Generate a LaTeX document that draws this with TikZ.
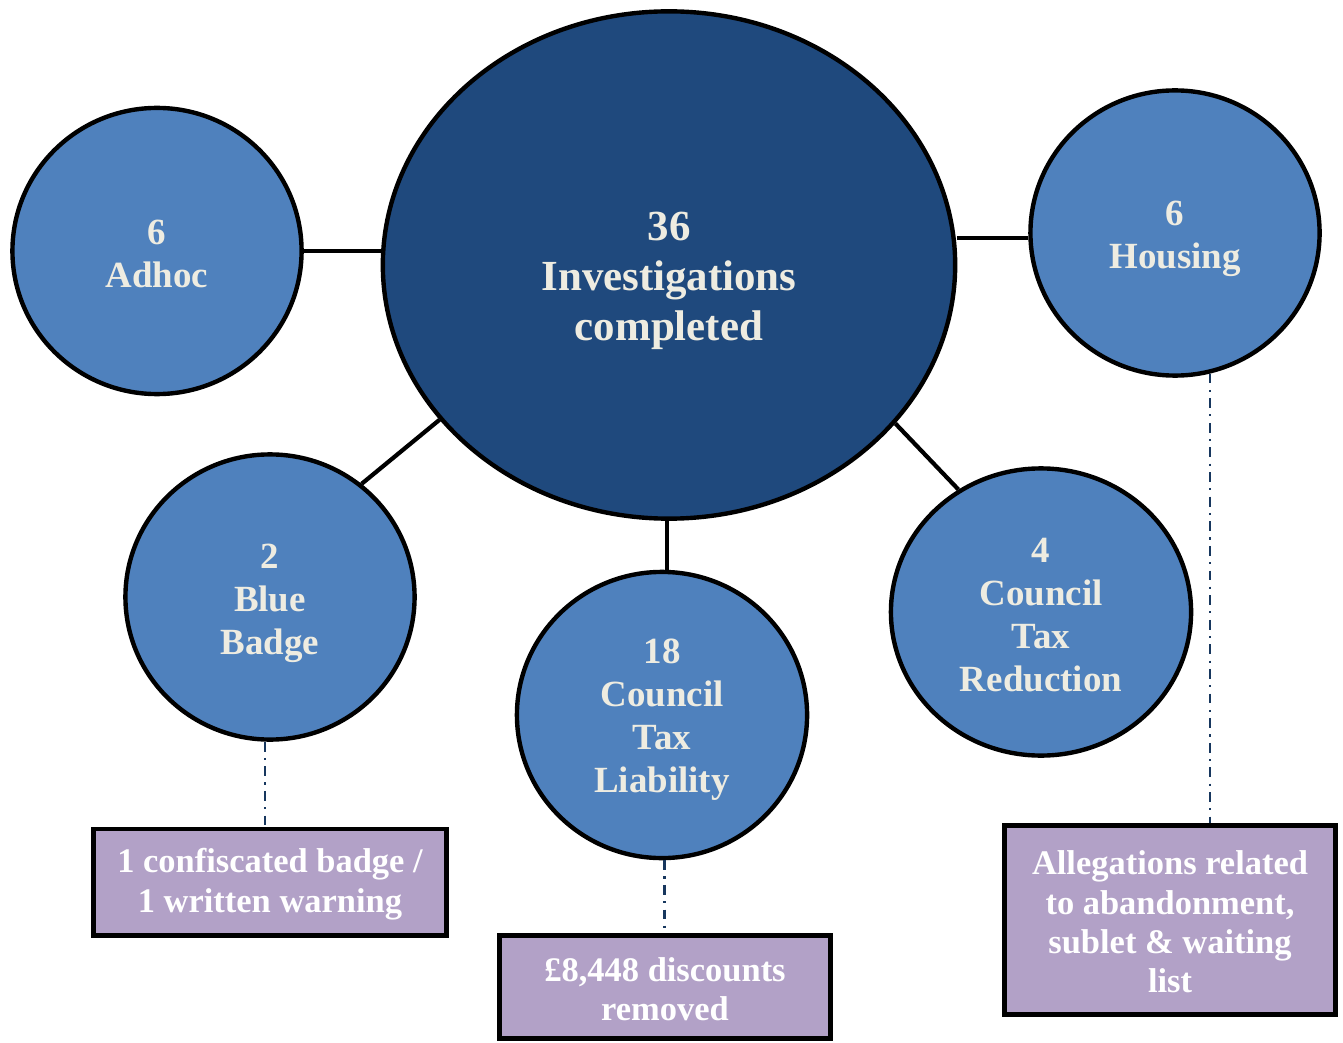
\documentclass[tikz,border=0pt]{standalone}
\usepackage{fontspec}
\setmainfont{Liberation Serif}
\usetikzlibrary{shapes.geometric}
\definecolor{maindark}{HTML}{1F497D}
\definecolor{bubblefill}{HTML}{4F81BD}
\definecolor{boxfill}{HTML}{B2A1C7}
\definecolor{cream}{HTML}{EEECE1}
\definecolor{navyline}{HTML}{17375E}
\tikzset{
  bubble/.style={ellipse, draw=black, line width=1.25pt, fill=bubblefill, inner sep=0pt},
  mainbubble/.style={bubble, fill=maindark},
  bubbletext/.style={inner sep=0pt, text=cream, align=center, font=\fontsize{10.5}{12.2}\selectfont\bfseries},
  maintext/.style={bubbletext, font=\fontsize{12.2}{14.2}\selectfont\bfseries},
  notebox/.style={rectangle, draw=black, line width=1.4pt, fill=boxfill, inner sep=0pt,
    text=white, align=center, font=\fontsize{9.8}{11.2}\selectfont\bfseries},
  notetext/.style={inner sep=0pt, text=white, align=center, font=\fontsize{9.8}{11.2}\selectfont\bfseries},
  link/.style={draw=black, line width=1.2pt},
  notelink/.style={draw=navyline, line width=0.8pt, dash pattern=on 2.8pt off 1.8pt on 0.6pt off 1.8pt}
}
\begin{document}
\begin{tikzpicture}[x=0.01cm, y=-0.01cm]
\useasboundingbox (0,0) rectangle (1343,1043);
\node[mainbubble, minimum width=5.72cm, minimum height=5.07cm] (main) at (669,265) {};
\node[bubble, minimum width=2.89cm, minimum height=2.86cm] (adhoc) at (157,251) {};
\node[bubble, minimum width=2.89cm, minimum height=2.85cm] (housing) at (1175,233) {};
\node[bubble, minimum width=2.89cm, minimum height=2.85cm] (badge) at (270,597) {};
\node[bubble, minimum width=2.90cm, minimum height=2.86cm] (ctl) at (662,715) {};
\node[bubble, minimum width=3.00cm, minimum height=2.87cm] (ctr) at (1041,612) {};
\node[maintext] (main-t) at (669,281) {36\\Investigations\\completed};
\node[bubbletext] (adhoc-t) at (157,254) {6\\Adhoc};
\node[bubbletext] (housing-t) at (1175,239) {6\\Housing};
\node[bubbletext] (badge-t) at (270,603) {2\\Blue\\Badge};
\node[bubbletext] (ctl-t) at (662,720) {18\\Council\\Tax\\Liability};
\node[bubbletext] (ctr-t) at (1041,615) {4\\Council\\Tax\\Reduction};
\node[notebox, minimum width=3.52cm, minimum height=1.06cm] (box1) at (270,882) {};
\node[notebox, minimum width=3.30cm, minimum height=1.03cm] (box2) at (665,987) {};
\node[notebox, minimum width=3.30cm, minimum height=1.89cm] (box3) at (1170,920) {};
\node[notetext] (box1-t) at (270,884) {1 confiscated badge /\\1 written warning};
\node[notetext] (box2-t) at (665,989) {£8,448 discounts\\removed};
\node[notetext] (box3-t) at (1170,922) {Allegations related\\to abandonment,\\sublet \& waiting\\list};
\draw[link] (adhoc.east) -- (adhoc.east -| main.west);
\draw[link] (housing.182) -- (housing.182 -| main.east);
\draw[link] (badge.51) -- (main.214.4);
\draw[link] (ctr.124.5) -- (main.-35.9);
\draw[link] (ctl.88) -- (ctl.88 |- main.south);
\draw[notelink] (badge.-92) -- (badge.-92 |- box1.north);
\draw[notelink] (ctl.-89) -- (ctl.-89 |- box2.north);
\draw[notelink] (housing.-76) -- (housing.-76 |- box3.north);
\end{tikzpicture}
\end{document}
